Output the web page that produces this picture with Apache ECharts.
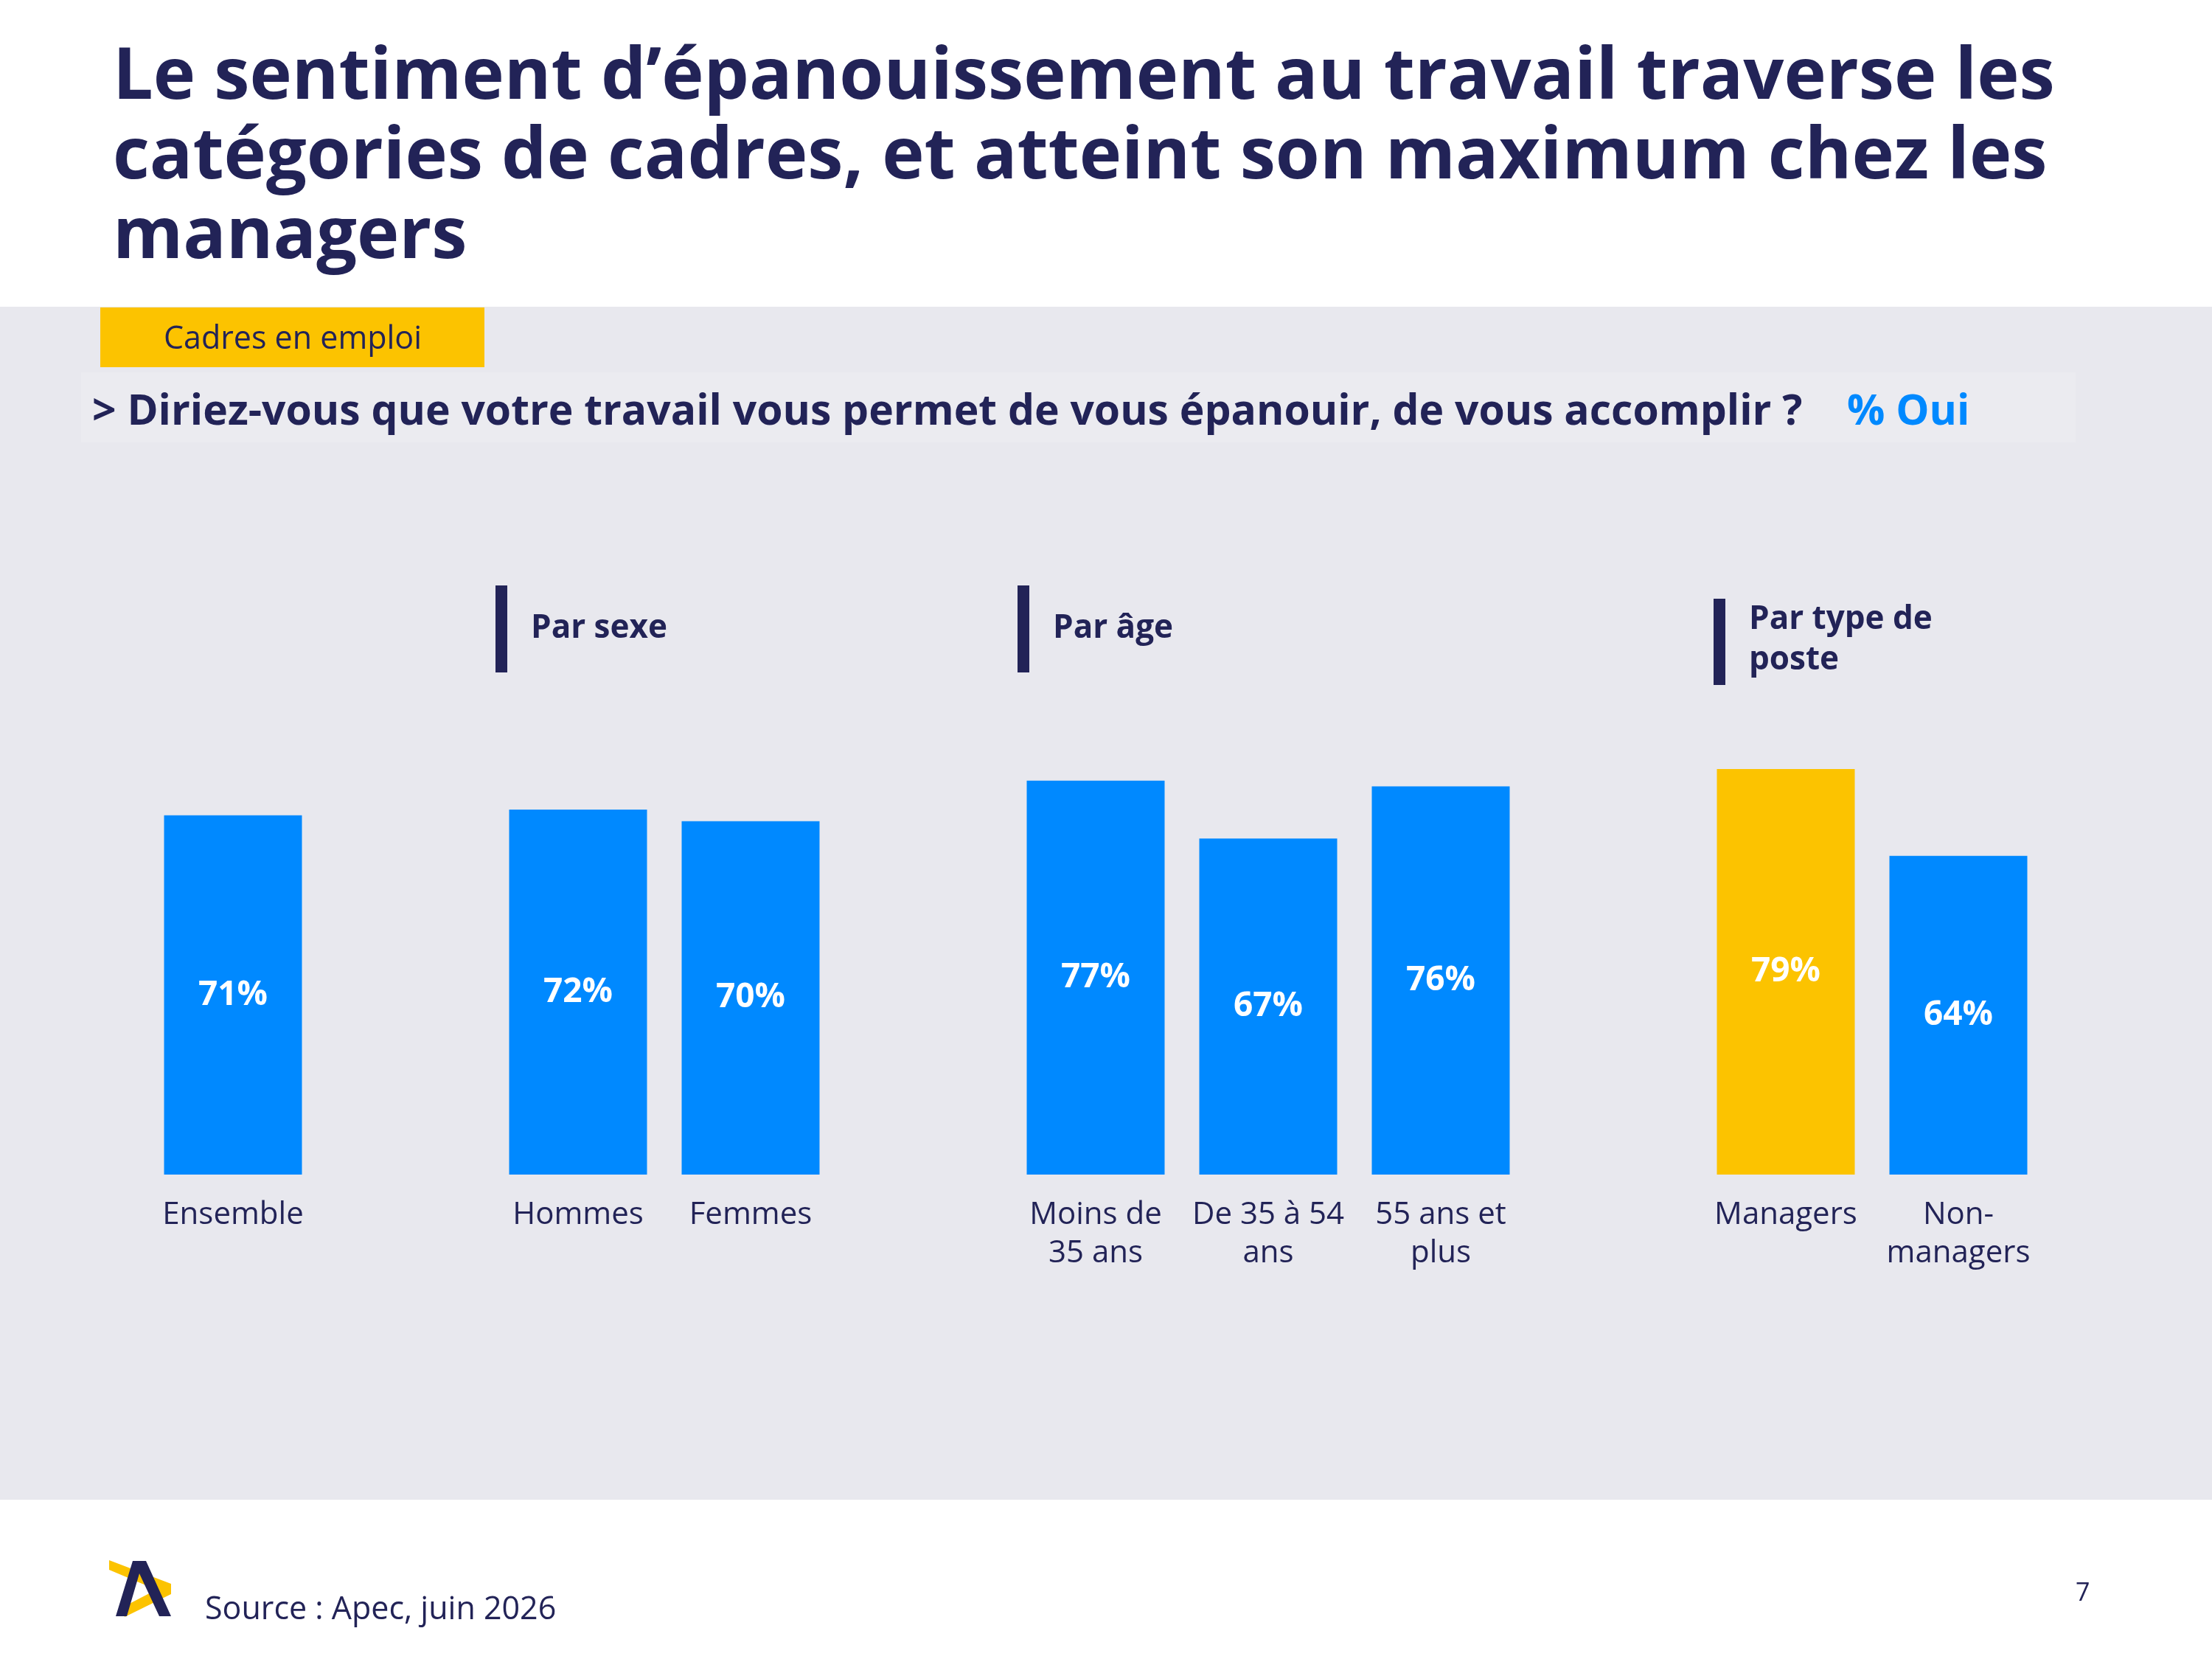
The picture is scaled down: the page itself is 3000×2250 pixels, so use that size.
<!DOCTYPE html>
<html>
<head>
<meta charset="utf-8">
<script src="https://cdn.jsdelivr.net/npm/echarts@6/dist/echarts.min.js"></script>
<style>
  html, body { margin: 0; padding: 0; background: #fff; }
  #main { width: 3000px; height: 2250px; }
</style>
</head>
<body>
<div id="main"></div>
<script>
// données
var categories = ['Ensemble', '', 'Hommes', 'Femmes', '', 'Moins de\n35 ans', 'De 35 à 54\nans', '55 ans et\nplus', '', 'Managers', 'Non-\nmanagers'];
var values = [71, null, 72, 70, null, 77, 67, 76, null, 79, 64];
var highlight = ['Managers'];

var titre = "Le sentiment d\u2019épanouissement au travail traverse les\ncatégories de cadres, et atteint son maximum chez les\nmanagers";
var question = '> Diriez-vous que votre travail vous permet de vous épanouir, de vous accomplir ?';

var NAVY = '#222357';
var BLUE = '#0089FF';
var YELLOW = '#FCC300';
var FONT = '"Open Sans"';

var myChart = echarts.init(document.getElementById('main'));

var barData = values.map(function (v, i) {
    if (v === null) return '-';
    return {
        value: v,
        itemStyle: { color: highlight.indexOf(categories[i]) >= 0 ? YELLOW : BLUE }
    };
});

function heading(x, yTop, h, txt, cy) {
    return [{
        type: 'rect',
        shape: { x: x, y: yTop, width: 16, height: h },
        style: { fill: NAVY }
    }, {
        type: 'text',
        x: x + 48, y: cy,
        style: { text: txt, fill: NAVY, font: 'bold 44px ' + FONT, verticalAlign: 'middle', lineHeight: 55 }
    }];
}

var graphics = [
    // fond gris
    { type: 'rect', z: -10, shape: { x: 0, y: 416, width: 3000, height: 1618 }, style: { fill: '#E8E8EE' } },
    { type: 'rect', z: -9, shape: { x: 110, y: 505, width: 2705, height: 95 }, style: { fill: '#EBEBF0' } },
    // titre
    {
        type: 'text', x: 153, y: 52,
        style: { text: titre, fill: NAVY, font: 'bold 97px ' + FONT, lineHeight: 108, verticalAlign: 'top' }
    },
    // étiquette
    { type: 'rect', shape: { x: 136, y: 417, width: 521, height: 81 }, style: { fill: YELLOW } },
    {
        type: 'text', x: 397, y: 461,
        style: { text: 'Cadres en emploi', fill: NAVY, font: '43px ' + FONT, align: 'center', verticalAlign: 'middle' }
    },
    // question
    {
        type: 'text', x: 125, y: 560,
        style: { text: question, fill: NAVY, font: 'bold 57px ' + FONT, verticalAlign: 'middle' }
    },
    {
        type: 'text', x: 2505, y: 560,
        style: { text: '% Oui', fill: BLUE, font: 'bold 57px ' + FONT, verticalAlign: 'middle' }
    },
    // pied de page
    {
        type: 'polygon',
        shape: { points: [[148, 2116], [232, 2148], [232, 2162], [169, 2193], [166, 2180], [212, 2156], [148, 2129]] },
        style: { fill: YELLOW }
    },
    {
        type: 'polygon',
        shape: { points: [[157, 2192], [180, 2117], [198, 2117], [232, 2192], [216, 2192], [189, 2134], [172, 2192]] },
        style: { fill: NAVY }
    },
    {
        type: 'text', x: 278, y: 2184,
        style: { text: 'Source : Apec, juin 2026', fill: NAVY, font: '43px ' + FONT, verticalAlign: 'middle' }
    },
    {
        type: 'text', x: 2815, y: 2161,
        style: { text: '7', fill: NAVY, font: '34px ' + FONT, verticalAlign: 'middle' }
    }
];
graphics = graphics
    .concat(heading(672, 794, 118, 'Par sexe', 852))
    .concat(heading(1380, 794, 118, 'Par âge', 852))
    .concat(heading(2324, 812, 117, 'Par type de\nposte', 868));

var option = {
    backgroundColor: '#ffffff',
    animation: false,
    grid: { left: 199, right: 227, top: 878, bottom: 657 },
    xAxis: {
        type: 'category',
        data: categories,
        axisLine: { show: false },
        axisTick: { show: false },
        axisLabel: {
            interval: 0,
            color: NAVY,
            fontFamily: FONT,
            fontSize: 42,
            lineHeight: 52,
            margin: 29
        }
    },
    yAxis: {
        type: 'value',
        min: 9,
        max: 100,
        show: false
    },
    series: [{
        type: 'bar',
        data: barData,
        barWidth: 187,
        label: {
            show: true,
            position: 'inside',
            color: '#ffffff',
            fontFamily: FONT,
            fontWeight: 'bold',
            fontSize: 46,
            formatter: '{c}%'
        }
    }],
    graphic: graphics
};

myChart.setOption(option);
</script>
</body>
</html>
